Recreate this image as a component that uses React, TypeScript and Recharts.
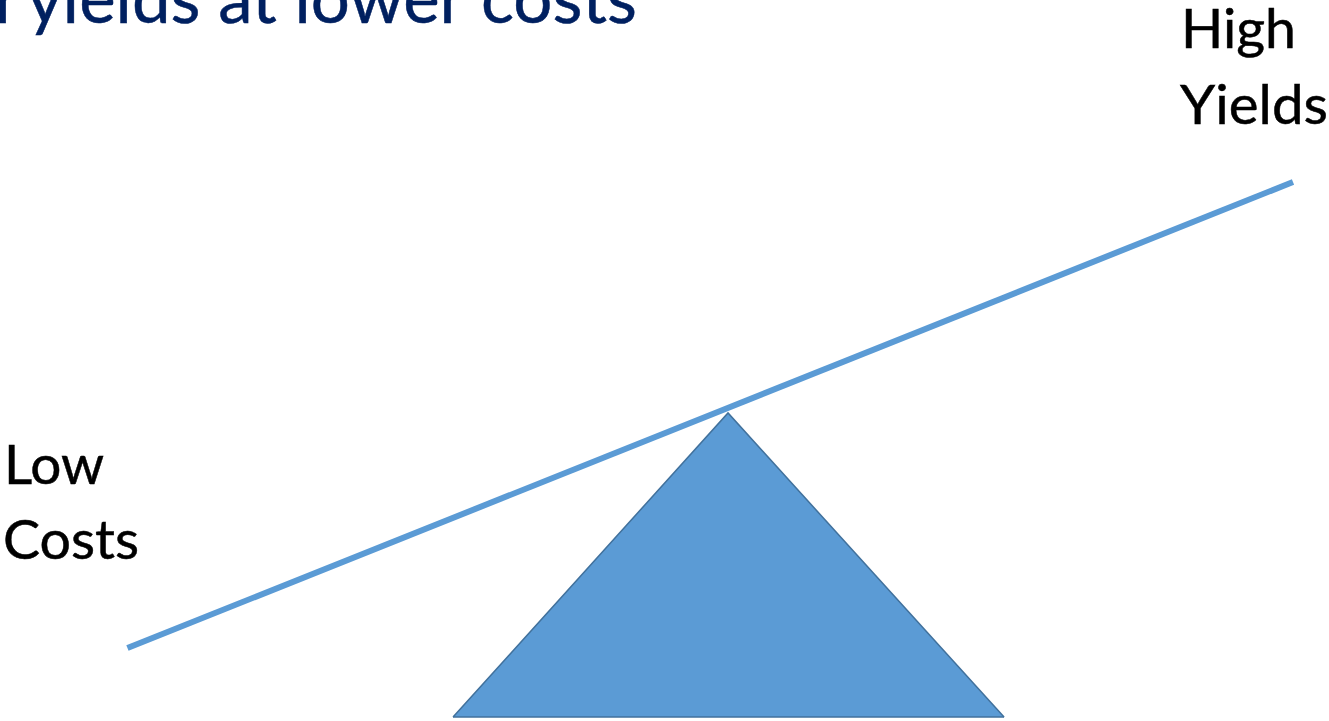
import React from 'react';
import { ComposedChart, Line, Area, XAxis, YAxis, Customized } from 'recharts';

// Seesaw diagram: beam ends (left = Low Costs, right = High Yields)
const beamEnds = ['Low Costs', 'High Yields'];
const beamPosition = [9.59, 97.29];
const beamHeight = [10.12, 74.76];

// Fulcrum (triangle) vertices: left base, apex, right base
const fulcrumPosition = [34.09, 54.78, 75.55];
const fulcrumHeight = [0.55, 42.72, 0.55];
const fulcrumBase = 0.55;

const title = 'Higher yields at lower costs';
const leftLabel = ['Low', 'Costs'];
const rightLabel = ['High', 'Yields'];

const beamData = beamPosition.map((x, i) => ({ x, y: beamHeight[i], name: beamEnds[i] }));
const fulcrumData = fulcrumPosition.map((x, i) => ({ x, y: fulcrumHeight[i] }));
const baseData = [
  { x: fulcrumPosition[0], y: fulcrumBase },
  { x: fulcrumPosition[2], y: fulcrumBase },
];

const W = 1329;
const H = 721;
const FONT = 'Lato, "Open Sans", sans-serif';

const labelStyle = { fill: '#000', stroke: '#000', strokeWidth: 0.5 };

const Texts = () => (
  <g>
    <text x={20} y={23} textAnchor="end" fill="#002060" stroke="#002060" strokeWidth={0.5} fontFamily={FONT} fontSize={70}>
      Higher
    </text>
    <text x={27} y={23} fill="#002060" stroke="#002060" strokeWidth={0.5} fontFamily={FONT} fontSize={70} textLength={610} lengthAdjust="spacingAndGlyphs">
      {title.replace('Higher ', '')}
    </text>
    <text x={4} y={484} {...labelStyle} fontFamily={FONT} fontSize={55} textLength={100} lengthAdjust="spacingAndGlyphs">
      {leftLabel[0]}
    </text>
    <text x={3} y={559} {...labelStyle} fontFamily={FONT} fontSize={55} textLength={136} lengthAdjust="spacingAndGlyphs">
      {leftLabel[1]}
    </text>
    <text x={1181} y={48} {...labelStyle} fontFamily={FONT} fontSize={55} textLength={115} lengthAdjust="spacingAndGlyphs">
      {rightLabel[0]}
    </text>
    <text x={1180} y={124} {...labelStyle} fontFamily={FONT} fontSize={55} textLength={148} lengthAdjust="spacingAndGlyphs">
      {rightLabel[1]}
    </text>
  </g>
);

export default function App() {
  return (
    <div style={{ position: 'fixed', left: 0, top: 0, width: W, height: H, background: '#fff', overflow: 'hidden' }}>
      <ComposedChart width={W} height={H} margin={{ top: 0, right: 0, bottom: 0, left: 0 }}>
        <XAxis type="number" dataKey="x" domain={[0, 100]} hide allowDataOverflow />
        <YAxis type="number" dataKey="y" domain={[0, 100]} hide allowDataOverflow />
        <Area
          data={fulcrumData}
          dataKey="y"
          type="linear"
          baseValue={fulcrumBase}
          fill="#5B9BD5"
          fillOpacity={1}
          stroke="#41719C"
          strokeWidth={1.5}
          isAnimationActive={false}
          dot={false}
          activeDot={false}
        />
        <Line
          data={baseData}
          dataKey="y"
          type="linear"
          stroke="#41719C"
          strokeWidth={1.5}
          dot={false}
          activeDot={false}
          isAnimationActive={false}
        />
        <Line
          data={beamData}
          dataKey="y"
          type="linear"
          stroke="#5B9BD5"
          strokeWidth={6}
          strokeLinecap="butt"
          dot={false}
          activeDot={false}
          isAnimationActive={false}
        />
        <Customized component={Texts} />
      </ComposedChart>
    </div>
  );
}
